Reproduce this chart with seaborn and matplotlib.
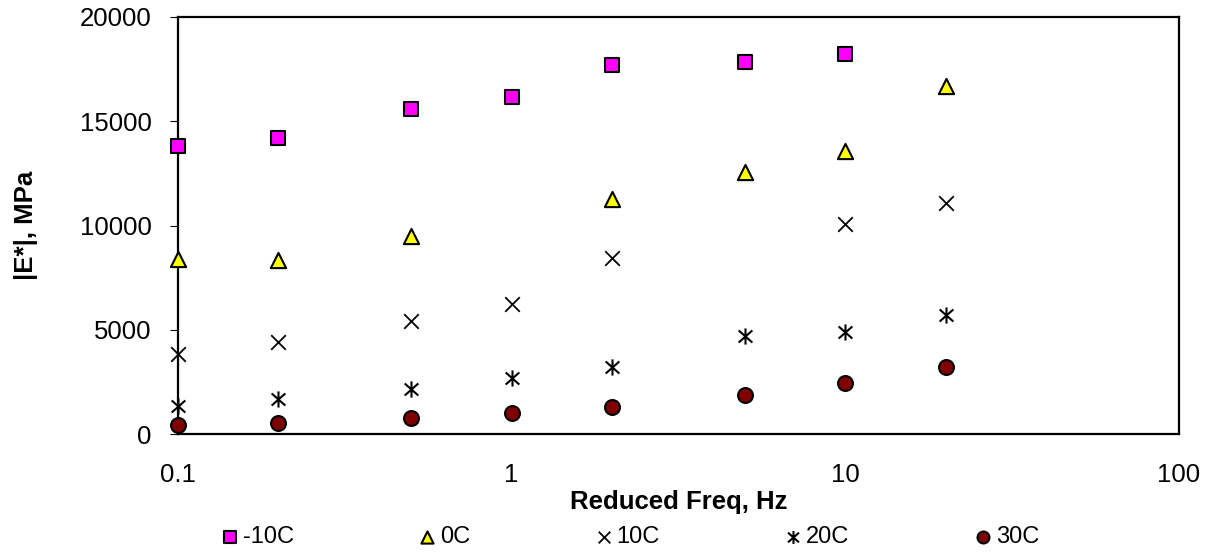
import numpy as np
import pandas as pd
import matplotlib
matplotlib.use("Agg")
import matplotlib.pyplot as plt
from matplotlib.path import Path
from matplotlib.markers import MarkerStyle
from matplotlib.ticker import FixedLocator, NullLocator
import seaborn as sns

sns.set_style("white")
plt.rcParams['font.family'] = ['Liberation Sans', 'DejaVu Sans']
plt.rcParams['text.color'] = 'black'
plt.rcParams['axes.labelcolor'] = 'black'
plt.rcParams['xtick.color'] = 'black'
plt.rcParams['ytick.color'] = 'black'

# data (NaN = no point drawn)
freq = [0.1, 0.2, 0.5, 1, 2, 5, 10, 20]
e_m10 = [13830, 14180, 15590, 16180, 17680, 17840, 18225, np.nan]
e_0 = [8380, 8345, 9500, np.nan, 11250, 12580, 13590, 16700]
e_10 = [3820, 4430, 5420, 6235, 8425, np.nan, 10070, 11065]
e_20 = [1340, 1660, 2140, 2670, 3200, 4715, 4875, 5710]
e_30 = [430, 540, 780, 990, 1310, 1855, 2430, 3200]
temps = ['-10C', '0C', '10C', '20C', '30C']

x_ticks = [0.1, 1, 10, 100]
x_ticklabels = ['0.1', '1', '10', '100']
y_ticks = [0, 5000, 10000, 15000, 20000]

df = pd.DataFrame({'freq': freq, '-10C': e_m10, '0C': e_0, '10C': e_10,
                   '20C': e_20, '30C': e_30})
long_df = df.melt(id_vars='freq', var_name='temp', value_name='E').dropna()

# asterisk marker: vertical bar plus an x
star = Path([(0, -1), (0, 1), (-0.85, -0.75), (0.85, 0.75), (-0.85, 0.75), (0.85, -0.75)],
            [Path.MOVETO, Path.LINETO, Path.MOVETO, Path.LINETO, Path.MOVETO, Path.LINETO])

styles = {
    '-10C': dict(marker='s', color='#FF00FF', edgecolor='black', linewidth=1.5, s=105),
    '0C': dict(marker='^', color='#FFFF00', edgecolor='black', linewidth=1.5, s=120),
    '10C': dict(marker='x', color='black', linewidth=1.3, s=110),
    '20C': dict(marker=MarkerStyle(star), color='black', edgecolor='black', linewidth=1.5, s=135),
    '30C': dict(marker='o', color='#800000', edgecolor='black', linewidth=1.5, s=115),
}

fig, ax = plt.subplots(figsize=(12.09, 5.54), dpi=100)
fig.subplots_adjust(left=178/1209, right=1179/1209, top=1-17/554, bottom=1-434/554)

for t in temps:
    sub = long_df[long_df['temp'] == t]
    sns.scatterplot(data=sub, x='freq', y='E', ax=ax, label=t, legend=False,
                    clip_on=False, zorder=3, **styles[t])

ax.set_xscale('log')
ax.set_xlim(0.1, 100)
ax.set_ylim(0, 20000)
ax.xaxis.set_major_locator(FixedLocator(x_ticks))
ax.xaxis.set_minor_locator(NullLocator())
ax.set_xticklabels(x_ticklabels)
ax.set_yticks(y_ticks)

ax.tick_params(axis='x', direction='in', length=6, width=0.8, pad=21, labelsize=18.5)
ax.tick_params(axis='y', direction='out', length=6, width=0.8, pad=13, labelsize=18.5,
               left=True)

for sp in ax.spines.values():
    sp.set_color('black')
    sp.set_linewidth(1.6)
    sp.set_visible(True)

ax.set_xlabel('Reduced Freq, Hz', fontsize=18.5, fontweight='bold')
ax.set_ylabel('|E*|, MPa', fontsize=18.5, fontweight='bold')
ax.xaxis.set_label_coords(0.5, -0.135)
ax.yaxis.set_label_coords(-0.14, 0.5)

handles, labels = ax.get_legend_handles_labels()
fig.legend(handles, labels, loc='center', bbox_to_anchor=(631/1209, 1-537/554),
           ncol=5, frameon=False, fontsize=17, markerscale=0.8,
           handlelength=0.6, handletextpad=0.25, columnspacing=5.35,
           scatterpoints=1, borderpad=0)

fig.savefig('out.png', dpi=100, facecolor='white')
